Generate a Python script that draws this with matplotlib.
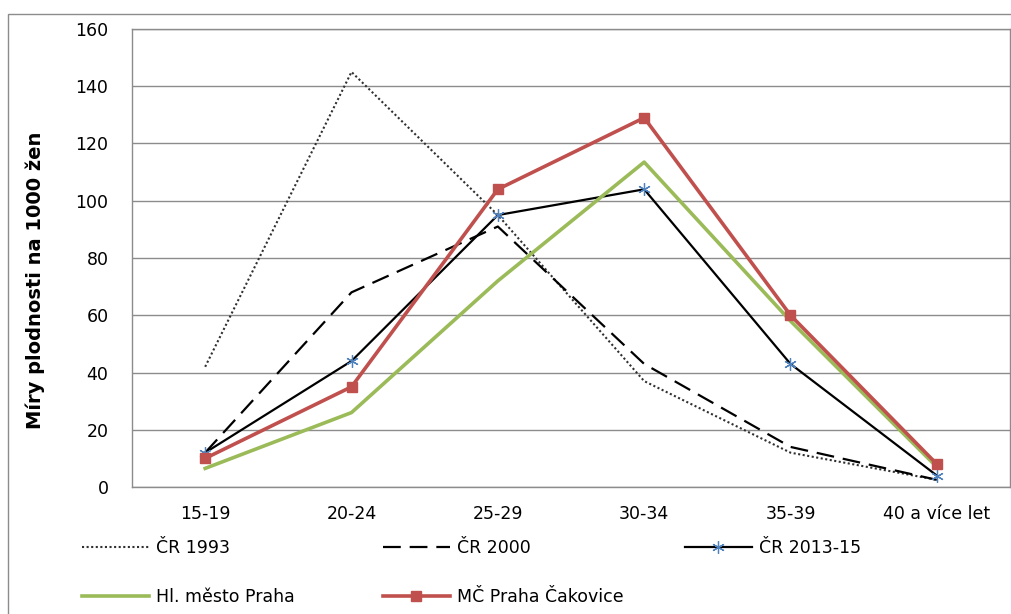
import matplotlib
matplotlib.use('Agg')
import matplotlib.pyplot as plt
from matplotlib.patches import Rectangle

# data
vek = ['15-19', '20-24', '25-29', '30-34', '35-39', '40 a více let']
cr_1993 = [42, 145, 95, 37, 12, 2.5]
cr_2000 = [12, 68, 91, 43, 14, 2.5]
cr_2013 = [12, 44, 95, 104, 43, 4]
praha = [6.5, 26, 72, 113.5, 58, 7]
cakovice = [10, 35, 104, 129, 60, 8]
y_ticks = [0, 20, 40, 60, 80, 100, 120, 140, 160]

plt.rcParams['font.family'] = ['DejaVu Sans']
fig = plt.figure(figsize=(10.11, 6.14), dpi=100)

# outer chart border
fig.patches.append(Rectangle((8 / 1011, -0.1), 1.2, 1 - 14 / 614 + 0.1,
                             transform=fig.transFigure, fill=False,
                             edgecolor='#8c8c8c', linewidth=1))

ax = fig.add_axes([132 / 1011, 1 - 487 / 614, 878 / 1011, 458 / 614])
x = list(range(len(vek)))

h1, = ax.plot(x, cr_1993, color='#303030', linestyle=(0, (1, 1.2)), linewidth=1.5, label='ČR 1993')
h2, = ax.plot(x, cr_2000, color='black', linestyle=(0, (8, 4)), linewidth=1.6, label='ČR 2000')
h3, = ax.plot(x, cr_2013, color='black', linewidth=1.6, marker=(6, 2, 0), markersize=9,
              markeredgecolor='#4F81BD', markeredgewidth=0.9, label='ČR 2013-15')
h4, = ax.plot(x, praha, color='#9BBB59', linewidth=2.6, label='Hl. město Praha')
h5, = ax.plot(x, cakovice, color='#C0504D', linewidth=2.6, marker='s', markersize=7,
              markerfacecolor='#C0504D', markeredgecolor='#C0504D', label='MČ Praha Čakovice')

ax.set_xlim(-0.5, len(vek) - 0.5)
ax.set_ylim(0, 160)
ax.set_yticks(y_ticks)
ax.set_xticks(x)
ax.set_xticklabels(vek)
ax.tick_params(axis='both', length=0, labelsize=12.5, colors='black')
ax.tick_params(axis='y', pad=17)
ax.tick_params(axis='x', pad=13)
ax.yaxis.grid(True, color='#8c8c8c', linewidth=1)
ax.set_axisbelow(True)
for s in ax.spines.values():
    s.set_color('#8c8c8c')
    s.set_linewidth(1)

ax.set_ylabel('Míry plodnosti na 1000 žen', fontsize=14, fontweight='bold')
ax.yaxis.set_label_coords(-0.099, 0.452)

# legend, Excel style grid of equal columns
handles = [h1, h2, h3, h4, h5]
col_x = [82, 383, 685]
row_y = [548, 597]
for i, h in enumerate(handles):
    r, c = divmod(i, 3)
    fig.legend(handles=[h], labels=[h.get_label()], loc='center left',
               bbox_to_anchor=(col_x[c] / 1011, 1 - row_y[r] / 614),
               frameon=False, fontsize=12.5, handlelength=3.85, handletextpad=0.4,
               borderpad=0, borderaxespad=0, numpoints=1)

fig.savefig('out.png', dpi=100)
